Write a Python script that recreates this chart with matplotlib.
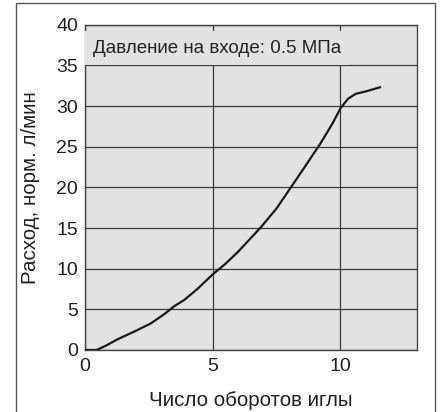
import matplotlib
matplotlib.use("Agg")
import matplotlib.pyplot as plt
from matplotlib.patches import Rectangle

plt.rcParams["font.family"] = ["Liberation Sans", "DejaVu Sans"]

# needle turns vs. normal flow
turns = [0.0, 0.45, 0.8, 1.27, 1.92, 2.58, 3.1, 3.5, 3.88, 4.4, 5.0, 5.5,
         6.0, 6.86, 7.5, 8.04, 8.56, 9.22, 9.7, 10.0, 10.3, 10.6, 11.0, 11.55]
flow = [0.0, 0.0, 0.5, 1.31, 2.25, 3.27, 4.4, 5.4, 6.14, 7.5, 9.3, 10.6,
        12.1, 15.0, 17.4, 19.9, 22.3, 25.4, 27.9, 29.7, 30.9, 31.5, 31.8, 32.3]

xticks = [0, 5, 10]
yticks = [0, 5, 10, 15, 20, 25, 30, 35, 40]
title = "Давление на входе: 0.5 МПа"
xlabel = "Число оборотов иглы"
ylabel = "Расход, норм. л/мин"

bg = "#e1e2e4"
grid_c = "#3a3a3a"

fig = plt.figure(figsize=(4.44, 4.12), dpi=100)
fig.patches.append(Rectangle((16 / 444, -0.05), (435 - 16) / 444, 1.05 - 3 / 412,
                             transform=fig.transFigure, fill=False,
                             edgecolor="#555555", linewidth=1.0))

ax = fig.add_axes([85 / 444, 1 - 350 / 412, 332 / 444, 325.3 / 412])
ax.set_facecolor(bg)
ax.set_xlim(0, 13)
ax.set_ylim(0, 40)
ax.set_xticks(xticks)
ax.set_yticks(yticks)
ax.tick_params(length=0, labelsize=14, colors="#222222")
ax.tick_params(axis="x", pad=6)
ax.tick_params(axis="y", pad=5)
for s in ax.spines.values():
    s.set_color("#444444")
    s.set_linewidth(1.0)
ax.set_axisbelow(True)
ax.grid(True, color=grid_c, linewidth=0.9)

ax.plot(turns, flow, color="#1a1a1a", linewidth=1.6, zorder=3)

ax.text(0.3, 37.1, title, fontsize=13.5, color="#222222", va="center", ha="left",
        zorder=4, bbox=dict(boxstyle="square,pad=0.45", facecolor=bg, edgecolor="none"))

fig.text(251 / 444, 1 - 406 / 412, xlabel, fontsize=14.8, ha="center", va="baseline",
         color="#222222")
fig.text(30 / 444, 1 - 187.4 / 412, ylabel, fontsize=14.8, ha="center", va="center",
         rotation=90, color="#222222")

fig.savefig("out.png", dpi=100)
